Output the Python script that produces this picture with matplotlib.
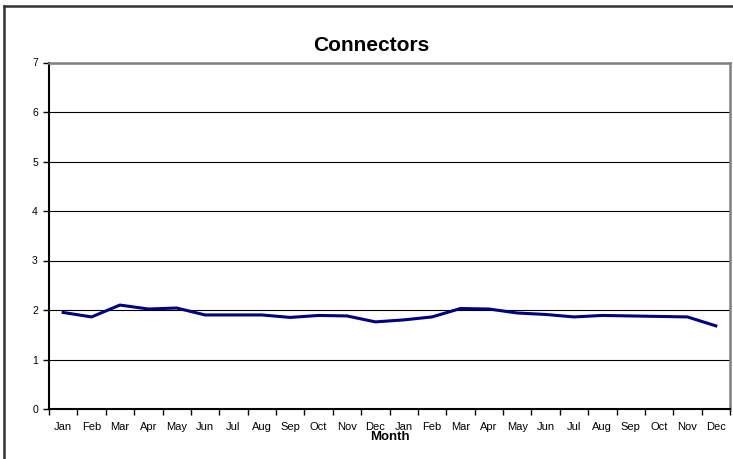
import matplotlib
matplotlib.use("Agg")
import matplotlib.pyplot as plt
from matplotlib.lines import Line2D
import numpy as np

plt.rcParams['font.family'] = ['Liberation Sans', 'DejaVu Sans']

months = ["Jan", "Feb", "Mar", "Apr", "May", "Jun", "Jul", "Aug", "Sep", "Oct", "Nov", "Dec",
          "Jan", "Feb", "Mar", "Apr", "May", "Jun", "Jul", "Aug", "Sep", "Oct", "Nov", "Dec"]
values = [1.95, 1.86, 2.10, 2.02, 2.04, 1.90, 1.90, 1.90, 1.85, 1.89, 1.88, 1.76,
          1.80, 1.86, 2.03, 2.02, 1.94, 1.91, 1.86, 1.89, 1.88, 1.87, 1.86, 1.68]
yticks = [0, 1, 2, 3, 4, 5, 6, 7]

W, H = 733, 459
fig = plt.figure(figsize=(W / 100, H / 100), dpi=100)
ax = fig.add_axes([49 / W, 1 - 409 / H, (730 - 49) / W, (409 - 62.5) / H])

x = np.arange(len(values))
ax.plot(x, values, color="#000080", lw=2.2, solid_joinstyle="round", zorder=3)

ax.set_xlim(-0.5, len(values) - 0.5)
ax.set_ylim(0, 7)
ax.set_yticks(yticks)
ax.set_yticklabels([str(v) for v in yticks], fontsize=7.5)
ax.yaxis.grid(True, color="#000000", lw=0.8)
ax.set_axisbelow(True)

ax.set_xticks(np.arange(-0.5, len(values), 1.0))
ax.set_xticklabels([])
ax.set_xticks(x, minor=True)
ax.set_xticklabels(months, minor=True, fontsize=8)
ax.tick_params(axis="x", which="major", length=4, width=1, color="black", direction="out")
ax.tick_params(axis="x", which="minor", length=0, pad=9)
ax.tick_params(axis="y", length=4, width=1, color="black", pad=4)

for s in ("left", "bottom"):
    ax.spines[s].set_color("black")
    ax.spines[s].set_linewidth(1.5)
for s in ("top", "right"):
    ax.spines[s].set_color("#808080")
    ax.spines[s].set_linewidth(1.8)

ax.set_xlabel("Month", fontsize=9.5, fontweight="bold", labelpad=0)
fig.text(371.5 / W, 1 - 51 / H, "Connectors", fontsize=15, fontweight="bold",
         ha="center", va="baseline")

# outer chart border
fig.add_artist(Line2D([3.5 / W, 3.5 / W], [1 - 6 / H, 0], transform=fig.transFigure,
                      color="#333333", lw=1.8))
fig.add_artist(Line2D([3.5 / W, 1], [1 - 6 / H, 1 - 6 / H], transform=fig.transFigure,
                      color="#333333", lw=1.8))

fig.savefig("out.png", dpi=100)
